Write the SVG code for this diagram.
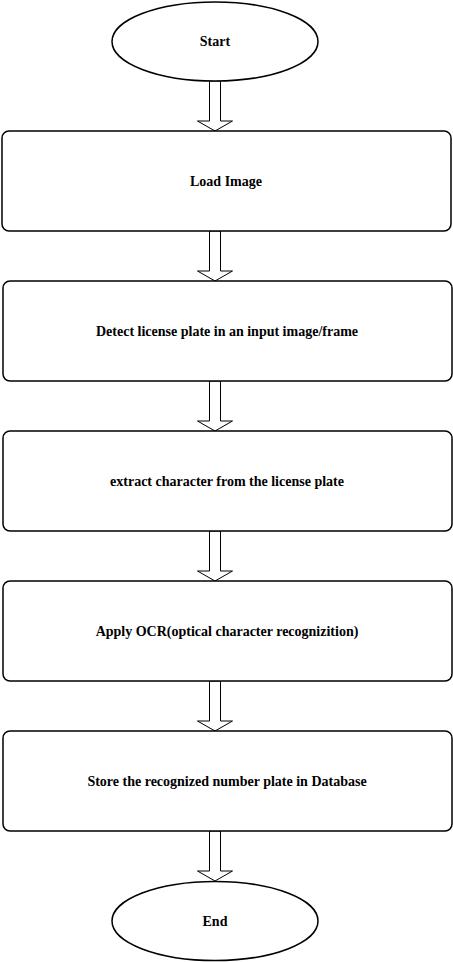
<svg xmlns="http://www.w3.org/2000/svg" width="453" height="962" viewBox="0 0 453 962">
<style>
.shape{fill:#fff;stroke:#000;stroke-width:1.5}
.arrow{fill:#fff;stroke:#000;stroke-width:1}
text{font-family:"Liberation Serif","Times New Roman",serif;font-weight:bold;font-size:14px;text-anchor:middle;fill:#000}
</style>
<rect width="453" height="962" fill="#fff"/>
<g id="connectors">
<path class="arrow" d="M209.5 81 V121 H197.5 L215 131 L232.5 121 H220.5 V81 Z"/>
<path class="arrow" d="M209.5 231 V271 H197.5 L215 281 L232.5 271 H220.5 V231 Z"/>
<path class="arrow" d="M209.5 381 V421 H197.5 L215 431 L232.5 421 H220.5 V381 Z"/>
<path class="arrow" d="M209.5 531 V571 H197.5 L215 581 L232.5 571 H220.5 V531 Z"/>
<path class="arrow" d="M209.5 681 V721 H197.5 L215 731 L232.5 721 H220.5 V681 Z"/>
<path class="arrow" d="M209.5 831 V871 H197.5 L215 881 L232.5 871 H220.5 V831 Z"/>
</g>
<g id="start"><ellipse class="shape" cx="215" cy="41.5" rx="103" ry="39.5"/><text x="215" y="46">Start</text></g>
<g id="load"><rect class="shape" x="2" y="131" width="449" height="100" rx="7"/><text x="226" y="186">Load Image</text></g>
<g id="detect"><rect class="shape" x="3" y="281" width="449" height="100" rx="7"/><text x="227" y="336">Detect license plate in an input image/frame</text></g>
<g id="extract"><rect class="shape" x="3" y="431" width="449" height="100" rx="7"/><text x="227" y="486">extract character from the license plate</text></g>
<g id="ocr"><rect class="shape" x="3" y="581" width="449" height="100" rx="7"/><text x="227" y="636">Apply OCR(optical character recognizition)</text></g>
<g id="store"><rect class="shape" x="3" y="731" width="449" height="100" rx="7"/><text x="227" y="786">Store the recognized number plate in Database</text></g>
<g id="end"><ellipse class="shape" cx="215" cy="921" rx="103" ry="39.5"/><text x="215" y="925.5">End</text></g>
</svg>
